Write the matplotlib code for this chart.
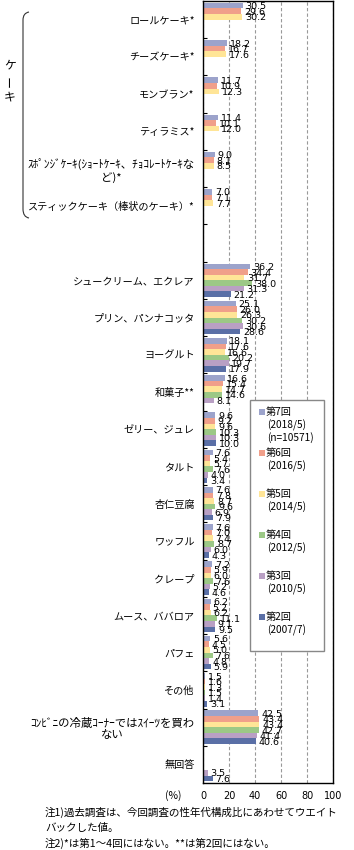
import numpy as np
import matplotlib
matplotlib.use("Agg")
import matplotlib.pyplot as plt
from matplotlib.patches import Rectangle, PathPatch
from matplotlib.path import Path

plt.rcParams['font.family'] = ['Noto Sans CJK JP', 'DejaVu Sans']

nan = np.nan

# カテゴリ（上から順）
categories = [
    "ロールケーキ*",
    "チーズケーキ*",
    "モンブラン*",
    "ティラミス*",
    "ｽﾎﾟﾝｼﾞｹｰｷ(ｼｮｰﾄｹｰｷ、ﾁｮｺﾚｰﾄｹｰｷな\nど)*",
    "スティックケーキ（棒状のケーキ）*",
    "",
    "シュークリーム、エクレア",
    "プリン、パンナコッタ",
    "ヨーグルト",
    "和菓子**",
    "ゼリー、ジュレ",
    "タルト",
    "杏仁豆腐",
    "ワッフル",
    "クレープ",
    "ムース、ババロア",
    "パフェ",
    "その他",
    "ｺﾝﾋﾞﾆの冷蔵ｺｰﾅｰではｽｲｰﾂを買わ\nない",
    "無回答",
]

# 調査回ごとの値（%）
r7 = [30.5, 18.2, 11.7, 11.4, 9.0, 7.0, nan, 36.2, 25.1, 18.1, 16.6, 9.6, 7.6, 7.6, 7.6, 7.2, 6.2, 5.6, 1.5, 42.5, nan]
r6 = [29.6, 16.7, 10.9, 10.1, 8.1, 7.1, nan, 34.4, 26.0, 17.6, 15.4, 9.2, 5.4, 7.8, 7.0, 5.9, 5.2, 4.5, 1.6, 43.4, nan]
r5 = [30.2, 17.6, 12.3, 12.0, 8.5, 7.7, nan, 31.7, 26.3, 16.6, 14.7, 9.6, 5.7, 8.7, 7.4, 6.0, 6.2, 5.0, 1.3, 43.4, nan]
r4 = [nan, nan, nan, nan, nan, nan, nan, 38.0, 30.2, 20.2, 14.6, 10.3, 7.6, 9.6, 8.7, 7.6, 11.1, 7.6, 1.5, 42.7, nan]
r3 = [nan, nan, nan, nan, nan, nan, nan, 31.3, 30.6, 19.7, 8.1, 10.3, 4.0, 6.9, 6.0, 5.2, 9.1, 4.8, 1.4, 41.4, 3.5]
r2 = [nan, nan, nan, nan, nan, nan, nan, 21.2, 28.6, 17.9, nan, 10.0, 3.4, 7.9, 4.3, 4.6, 9.5, 5.9, 3.1, 40.6, 7.6]

series = [r7, r6, r5, r4, r3, r2]
rounds = ["第7回", "第6回", "第5回", "第4回", "第3回", "第2回"]
periods = ["(2018/5)", "(2016/5)", "(2014/5)", "(2012/5)", "(2010/5)", "(2007/7)"]
colors = ["#9ca3cb", "#f09f8a", "#ffe597", "#9cc886", "#b9a0c4", "#5a6fa6"]

fig = plt.figure(figsize=(3.54, 8.5), dpi=100)
ax = fig.add_axes([203 / 354, 1 - 783 / 850, 130 / 354, 782 / 850])

n = len(categories)
bh = 0.15
y = np.arange(n)
for j, vals in enumerate(series):
    vals = np.array(vals, dtype=float)
    pos = y - 0.375 + bh * j
    ok = ~np.isnan(vals)
    ax.barh(pos[ok], vals[ok], height=bh, color=colors[j], zorder=2)
    for p, v in zip(pos[ok], vals[ok]):
        ax.annotate(f"{v:.1f}", (v, p), xytext=(2, -0.8), textcoords="offset points",
                    ha="left", va="center", fontsize=6.8, family="DejaVu Sans", zorder=3)

ax.set_xlim(0, 100)
ax.set_ylim(n - 0.5, -0.5)
ax.set_xticks(range(0, 101, 20))
ax.tick_params(axis="x", length=0, pad=6, labelsize=7)
for lab in ax.get_xticklabels():
    lab.set_family("DejaVu Sans")
ax.set_yticks(y)
ax.set_yticklabels(categories, fontsize=7.3)
ax.tick_params(axis="y", which="major", length=0, pad=6)
for lab in ax.get_yticklabels():
    lab.set_multialignment("center")
    if "ｹｰｷ" in lab.get_text() or "ｺﾝﾋﾞﾆ" in lab.get_text():
        lab.set_fontsize(8.2)
ax.set_yticks(np.arange(0.5, n - 0.5, 1), minor=True)
ax.tick_params(axis="y", which="minor", direction="in", length=3, width=0.8)
ax.xaxis.grid(True, linestyle=(0, (3, 2)), color="#999999", linewidth=0.8, zorder=0)
ax.set_axisbelow(True)
for s in ax.spines.values():
    s.set_color("black")
    s.set_linewidth(1)

# ピクセル座標の重ね描き用
ov = fig.add_axes([0, 0, 1, 1])
ov.set_xlim(0, 354)
ov.set_ylim(850, 0)
ov.axis("off")
ov.patch.set_visible(False)

# ケーキの括弧
bracket = Path([(29, 12), (23, 13), (23, 20), (23, 209), (23, 217), (29, 218)],
               [Path.MOVETO, Path.CURVE3, Path.CURVE3, Path.LINETO, Path.CURVE3, Path.CURVE3])
ov.add_patch(PathPatch(bracket, fill=False, edgecolor="#333333", linewidth=0.8))
ov.text(10, 65, "ケ", fontsize=8.5, ha="center", va="center")
ov.text(10, 81, "ー", fontsize=8.5, ha="center", va="center", rotation=90)
ov.text(10, 97, "キ", fontsize=8.5, ha="center", va="center")

# 凡例
ov.add_patch(Rectangle((250, 400), 74, 251, facecolor="white", edgecolor="#888888", linewidth=1, zorder=5))
for k, (rd, pr, c) in enumerate(zip(rounds, periods, colors)):
    ty = 412 + 41 * k
    ov.add_patch(Rectangle((259, ty - 3), 6, 6, facecolor=c, edgecolor="none", zorder=6))
    ov.text(266, ty, rd, fontsize=7.3, ha="left", va="center", zorder=6)
    ov.text(267, ty + 13, pr, fontsize=7.3, ha="left", va="center", zorder=6)
    if k == 0:
        ov.text(267, ty + 26, "(n=10571)", fontsize=7.3, ha="left", va="center", zorder=6)

ov.text(173, 796, "(%)", fontsize=7.5, ha="center", va="center")
ov.text(45, 812, "注1)過去調査は、今回調査の性年代構成比にあわせてウエイト", fontsize=7.6, ha="left", va="center")
ov.text(45, 828, "バックした値。", fontsize=7.6, ha="left", va="center")
ov.text(45, 843, "注2)*は第1～4回にはない。**は第2回にはない。", fontsize=7.6, ha="left", va="center")

fig.savefig("out.png", dpi=100)
